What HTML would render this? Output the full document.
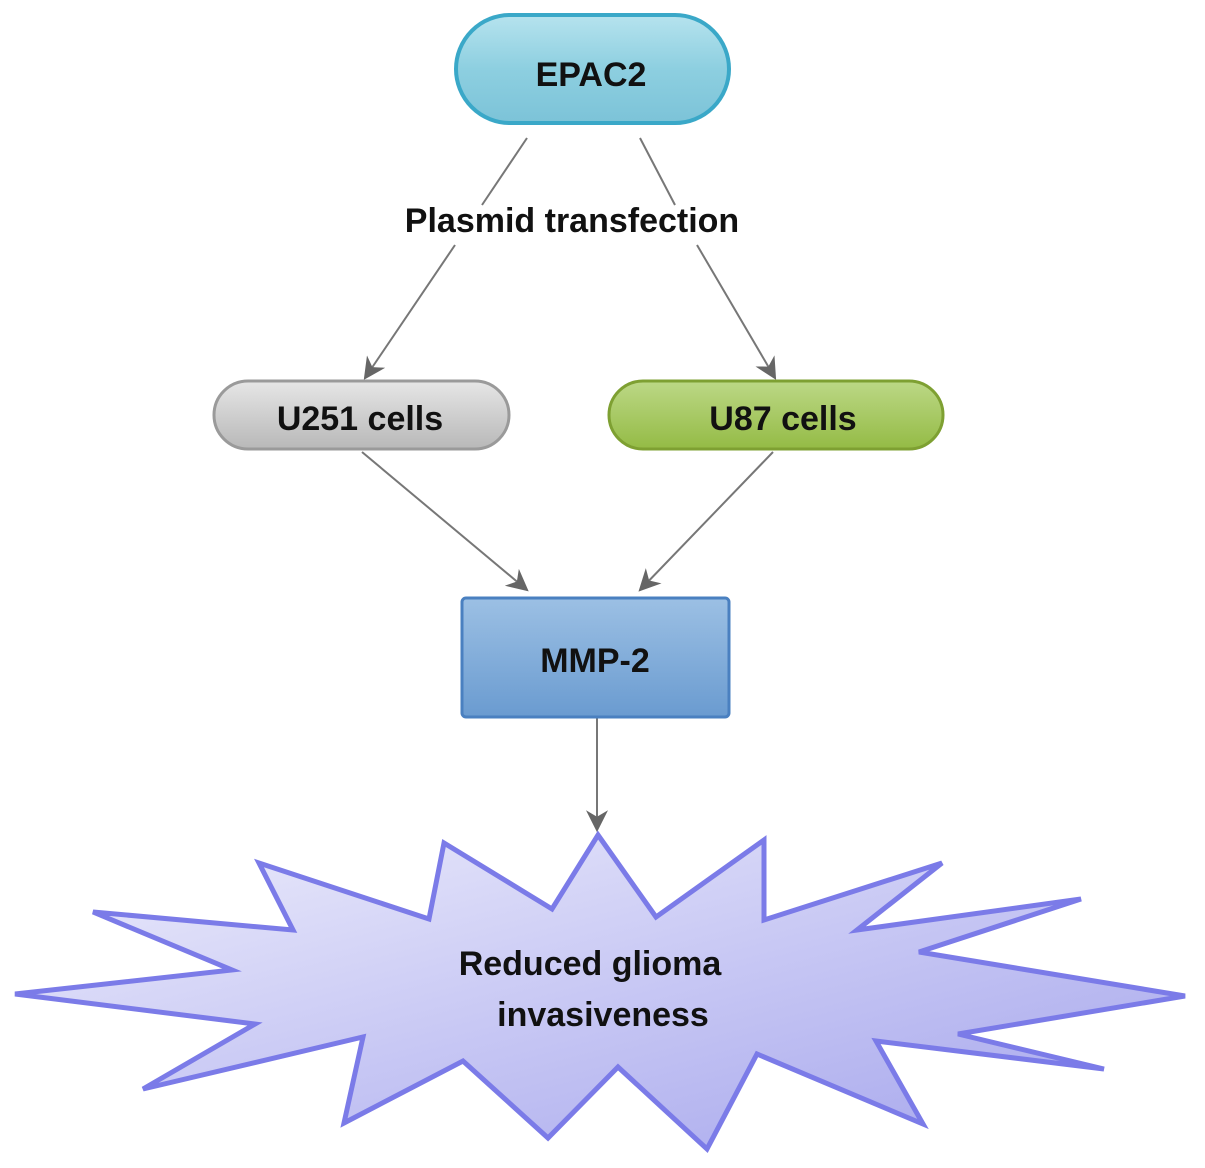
<!DOCTYPE html>
<html><head><meta charset="utf-8"><style>
html,body{margin:0;padding:0;background:#fff;}
svg{display:block;}
text{font-family:"Liberation Sans",sans-serif;font-weight:bold;fill:#111;}
</style></head><body>
<svg width="1205" height="1168" viewBox="0 0 1205 1168" xmlns="http://www.w3.org/2000/svg">
<defs>
<linearGradient id="gb" x1="0" y1="0" x2="0" y2="1"><stop offset="0" stop-color="#b6e3ee"/><stop offset="0.5" stop-color="#8dcfe0"/><stop offset="1" stop-color="#7cc3d8"/></linearGradient>
<linearGradient id="gg" x1="0" y1="0" x2="0" y2="1"><stop offset="0" stop-color="#e6e6e6"/><stop offset="1" stop-color="#b8b8b8"/></linearGradient>
<linearGradient id="gr" x1="0" y1="0" x2="0" y2="1"><stop offset="0" stop-color="#bcd886"/><stop offset="1" stop-color="#94bb45"/></linearGradient>
<linearGradient id="gm" x1="0" y1="0" x2="0" y2="1"><stop offset="0" stop-color="#9cc0e4"/><stop offset="1" stop-color="#6a9bd0"/></linearGradient>
<linearGradient id="gs" x1="0" y1="0" x2="1" y2="1"><stop offset="0" stop-color="#eeeefc"/><stop offset="0.5" stop-color="#c8c8f4"/><stop offset="1" stop-color="#a4a4ec"/></linearGradient>
<marker id="ah" markerWidth="10" markerHeight="10" refX="8" refY="5" orient="auto" markerUnits="userSpaceOnUse"><path d="M0,0 L10,5 L0,10 L3,5 Z" fill="#666" transform="scale(2)" /></marker>
<marker id="a" viewBox="0 0 10 10" markerWidth="22" markerHeight="22" refX="9" refY="5" orient="auto" markerUnits="userSpaceOnUse"><path d="M0,0 L10,5 L0,10 L3,5 Z" fill="#666"/></marker>
</defs>
<g stroke="#777" stroke-width="2" fill="none">
<line x1="527" y1="138" x2="482" y2="205"/>
<line x1="455" y1="245" x2="365" y2="378" marker-end="url(#a)"/>
<line x1="640" y1="138" x2="675" y2="205"/>
<line x1="697" y1="245" x2="775" y2="378" marker-end="url(#a)"/>
<line x1="362" y1="452" x2="527" y2="590" marker-end="url(#a)"/>
<line x1="773" y1="452" x2="640" y2="590" marker-end="url(#a)"/>
<line x1="597" y1="718" x2="597" y2="830" marker-end="url(#a)"/>
</g>
<text x="572" y="232" font-size="34" text-anchor="middle">Plasmid transfection</text>
<rect x="456" y="15" width="273" height="108" rx="54" fill="url(#gb)" stroke="#3aa8c8" stroke-width="4"/>
<text x="591" y="86" font-size="34" text-anchor="middle">EPAC2</text>
<rect x="214" y="381" width="295" height="68" rx="34" fill="url(#gg)" stroke="#9a9a9a" stroke-width="3"/>
<text x="360" y="430" font-size="34" text-anchor="middle">U251 cells</text>
<rect x="609" y="381" width="334" height="68" rx="34" fill="url(#gr)" stroke="#7ea032" stroke-width="3"/>
<text x="783" y="430" font-size="34" text-anchor="middle">U87 cells</text>
<rect x="462" y="598" width="267" height="119" rx="4" fill="url(#gm)" stroke="#4a80c0" stroke-width="3"/>
<text x="595" y="672" font-size="34" text-anchor="middle">MMP-2</text>
<polygon fill="url(#gs)" stroke="#7b7be8" stroke-width="5" stroke-linejoin="miter" points="598,835 656,917 764,840 764,920 942,863 857,930 1081,899 919,952 1185,996 958,1034 1104,1069 876,1041 923,1124 757,1054 707,1149 618,1067 548,1138 463,1061 344,1123 363,1037 143,1089 255,1024 15,994 232,970 93,912 293,930 259,863 429,919 444,843 552,909"/>
<text x="590" y="975" font-size="34" text-anchor="middle">Reduced glioma</text>
<text x="603" y="1026" font-size="34" text-anchor="middle">invasiveness</text>
</svg>
</body></html>
